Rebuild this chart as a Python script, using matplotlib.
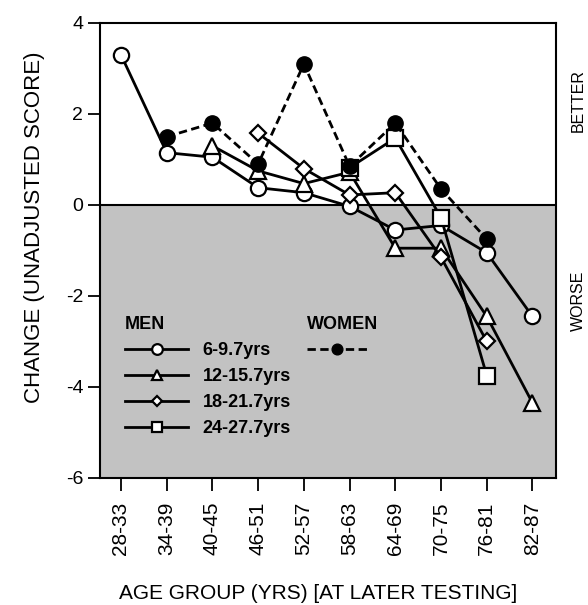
import numpy as np
import matplotlib
matplotlib.use("Agg")
import matplotlib.pyplot as plt

plt.rcParams['font.family'] = ['Liberation Sans', 'DejaVu Sans']
plt.rcParams['axes.unicode_minus'] = False

# age groups at later testing
ageGroups = ["28-33", "34-39", "40-45", "46-51", "52-57",
             "58-63", "64-69", "70-75", "76-81", "82-87"]

nan = np.nan
# men, by length of interval between tests
men_6_9 = [3.3, 1.15, 1.05, 0.38, 0.27, -0.03, -0.55, -0.45, -1.05, -2.45]
men_12_15 = [nan, nan, 1.3, 0.75, 0.47, 0.72, -0.95, -0.95, -2.45, -4.35]
men_18_21 = [nan, nan, nan, 1.58, 0.8, 0.22, 0.27, -1.15, -3.0, nan]
men_24_27 = [nan, nan, nan, nan, nan, 0.82, 1.47, -0.28, -3.75, nan]
# women
women = [nan, 1.5, 1.8, 0.9, 3.1, 0.85, 1.8, 0.35, -0.75, nan]

menSeries = [men_6_9, men_12_15, men_18_21, men_24_27]
menLabels = ["6-9.7yrs", "12-15.7yrs", "18-21.7yrs", "24-27.7yrs"]
menMarkers = ["o", "^", "D", "s"]
menSizes = [11, 11, 8, 11]

fig = plt.figure(figsize=(5.88, 6.05), dpi=100)
ax = fig.add_axes([0.170, 0.210, 0.776, 0.752])

x = np.arange(len(ageGroups))

# shaded "worse" zone below zero
ax.axhspan(-6, 0, color='#c2c2c2', zorder=0, lw=0)
ax.axhline(0, color='black', lw=1.5, zorder=1)

menHandles = []
for vals, lab, mk, ms in zip(menSeries, menLabels, menMarkers, menSizes):
    v = np.array(vals, dtype=float)
    ok = ~np.isnan(v)
    h, = ax.plot(x[ok], v[ok], color='black', lw=2, marker=mk, ms=ms,
                 mfc='white', mec='black', mew=1.6, label=lab, zorder=3)
    menHandles.append(h)

w = np.array(women, dtype=float)
ok = ~np.isnan(w)
wh, = ax.plot(x[ok], w[ok], color='black', lw=2, ls=(0, (3, 1.6)), marker='o',
              ms=11, mfc='black', mec='black', label=" ", zorder=4)

ax.set_xlim(-0.46, 9.52)
ax.set_ylim(-6, 4)
ax.set_yticks([-6, -4, -2, 0, 2, 4])
ax.set_xticks(x)
ax.set_xticklabels(ageGroups, rotation=90, fontsize=15)
ax.tick_params(axis='y', labelsize=14, length=9, width=1.3, direction='out',
               pad=3)
ax.tick_params(axis='x', length=9, width=1.3, direction='out', pad=8)
for s in ax.spines.values():
    s.set_linewidth(1.5)

ax.set_xlabel("AGE GROUP (YRS) [AT LATER TESTING]", fontsize=15)
ax.set_ylabel("CHANGE (UNADJUSTED SCORE)", fontsize=16)
ax.xaxis.set_label_coords(0.478, -0.232)
ax.yaxis.set_label_coords(-0.12, 0.55)

trans = ax.get_yaxis_transform()
ax.text(1.048, 2.3, "BETTER", rotation=90, transform=trans, ha='center',
        va='center', fontsize=11.5)
ax.text(1.048, -2.1, "WORSE", rotation=90, transform=trans, ha='center',
        va='center', fontsize=11.5)

legMen = ax.legend(handles=menHandles, title="MEN", loc='upper left',
                   bbox_to_anchor=(0.035, 0.375), frameon=False, borderpad=0,
                   handlelength=3.5, markerscale=0.7, labelspacing=0.5,
                   handletextpad=0.8, alignment='left',
                   prop={'weight': 'bold', 'size': 13},
                   title_fontproperties={'weight': 'bold', 'size': 13})
ax.add_artist(legMen)
ax.legend(handles=[wh], title="WOMEN", loc='upper left',
          bbox_to_anchor=(0.435, 0.375), frameon=False, borderpad=0,
          handlelength=3.3, markerscale=0.7, alignment='left',
          prop={'weight': 'bold', 'size': 13},
          title_fontproperties={'weight': 'bold', 'size': 13})

fig.savefig("out.png", dpi=100)
